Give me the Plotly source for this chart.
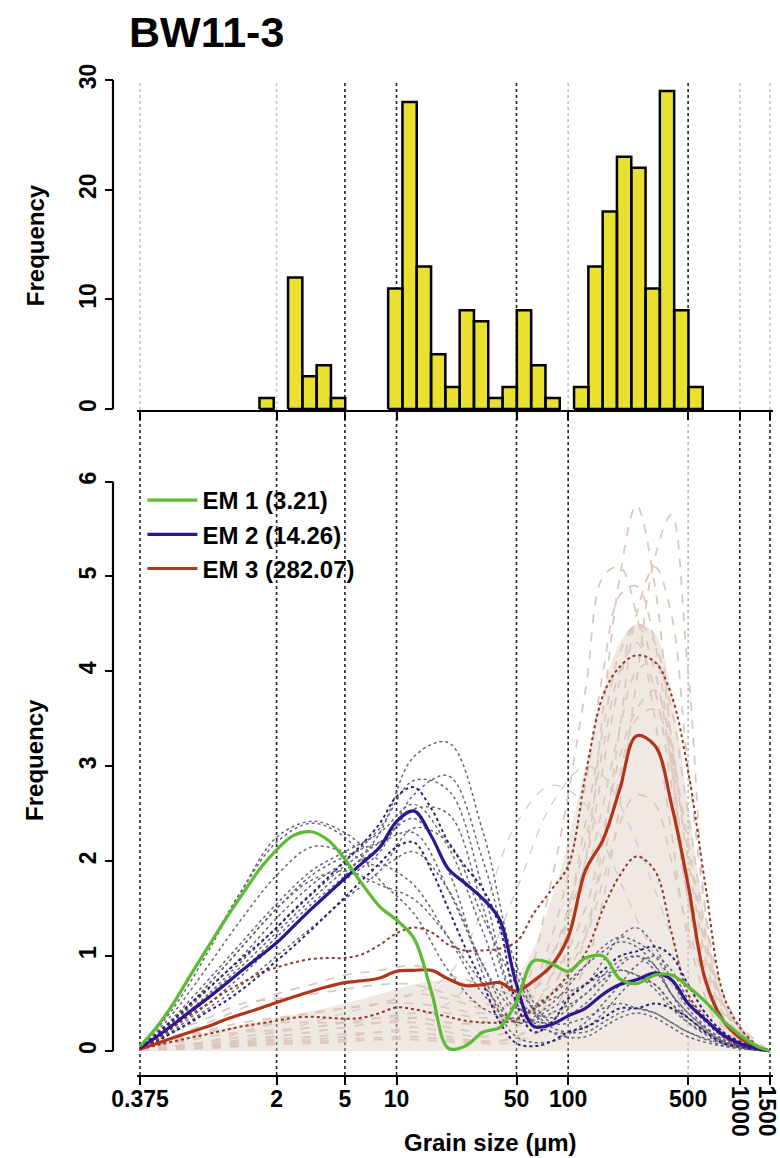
import numpy as np
import plotly.graph_objects as go

# ---- histogram of modes (upper panel) ----
bin_edges = [1.589, 1.924, 2.332, 2.825, 3.422, 4.147, 5.023, 6.085, 7.374, 8.933,
             10.82, 13.11, 15.89, 19.24, 23.32, 28.25, 34.22, 41.47, 50.23, 60.85,
             73.74, 89.33, 108.2, 131.1, 158.9, 192.4, 233.2, 282.5, 342.2, 414.7,
             502.3, 608.5]
counts = [1, 0, 12, 3, 4, 1, 0, 0, 0, 11, 28, 13, 5, 2, 9, 8, 1, 2, 9, 4, 1, 0,
          2, 13, 18, 23, 22, 11, 29, 9, 2]

# ---- end-member curves (lower panel) ----
grain_um = [0.32, 0.4, 0.5, 0.63, 0.8, 1, 1.26, 1.6, 2, 2.5, 3.2, 4, 5, 6.3, 8, 10,
            12.6, 16, 20, 25, 32, 40, 50, 63, 80, 100, 126, 160, 200, 250, 320, 400,
            500, 630, 800, 1000, 1260, 1500]
em1 = [0.05, 0.25, 0.50, 0.80, 1.10, 1.38, 1.65, 1.92, 2.12, 2.27, 2.31, 2.22, 2.02,
       1.76, 1.52, 1.38, 1.19, 0.62, 0.03, 0.05, 0.20, 0.25, 0.52, 0.95, 0.92, 0.84,
       0.98, 1.00, 0.76, 0.71, 0.80, 0.80, 0.68, 0.52, 0.32, 0.17, 0.05, 0.0]
em2 = [0.03, 0.15, 0.28, 0.42, 0.56, 0.70, 0.85, 1.00, 1.14, 1.31, 1.50, 1.66, 1.82,
       1.98, 2.15, 2.42, 2.53, 2.26, 1.92, 1.77, 1.60, 1.38, 0.70, 0.26, 0.28, 0.37,
       0.45, 0.60, 0.70, 0.75, 0.82, 0.75, 0.50, 0.33, 0.17, 0.08, 0.03, 0.0]
em3 = [0.02, 0.08, 0.14, 0.20, 0.26, 0.33, 0.39, 0.45, 0.51, 0.57, 0.63, 0.68, 0.72,
       0.74, 0.77, 0.84, 0.85, 0.85, 0.76, 0.69, 0.70, 0.72, 0.63, 0.74, 0.90, 1.20,
       1.90, 2.23, 2.76, 3.32, 3.22, 2.60, 1.75, 0.75, 0.32, 0.14, 0.04, 0.0]
em2_hi = [0.03, 0.18, 0.33, 0.50, 0.66, 0.82, 0.98, 1.14, 1.30, 1.48, 1.66, 1.83, 2.00,
          2.18, 2.40, 2.68, 2.78, 2.55, 2.20, 1.95, 1.70, 1.30, 0.50, 0.20, 0.30, 0.55,
          0.70, 0.85, 1.00, 1.05, 1.10, 1.00, 0.70, 0.40, 0.20, 0.10, 0.03, 0.0]
em2_lo = [0.02, 0.10, 0.20, 0.30, 0.42, 0.52, 0.65, 0.80, 0.95, 1.10, 1.28, 1.45, 1.62,
          1.80, 1.98, 2.15, 2.20, 1.90, 1.50, 1.10, 0.70, 0.30, 0.08, 0.05, 0.10, 0.20,
          0.25, 0.35, 0.45, 0.45, 0.50, 0.45, 0.35, 0.20, 0.08, 0.04, 0.01, 0.0]
em3_hi = [0.02, 0.12, 0.25, 0.38, 0.50, 0.62, 0.72, 0.82, 0.88, 0.93, 0.97, 0.98, 0.98,
          1.02, 1.12, 1.24, 1.30, 1.25, 1.12, 1.06, 1.06, 1.08, 1.15, 1.45, 1.70, 1.95,
          2.90, 3.75, 4.05, 4.17, 4.10, 3.75, 2.95, 1.75, 0.60, 0.25, 0.06, 0.0]
em3_lo = [0.02, 0.06, 0.10, 0.14, 0.18, 0.22, 0.26, 0.29, 0.32, 0.35, 0.36, 0.35, 0.34,
          0.35, 0.40, 0.46, 0.44, 0.40, 0.36, 0.32, 0.30, 0.30, 0.33, 0.45, 0.60, 0.80,
          1.03, 1.50, 1.85, 2.05, 1.90, 1.25, 0.60, 0.35, 0.15, 0.06, 0.02, 0.0]

# ---- measured sample curves (background), coarser grid ----
grain_bg = [0.32, 0.5, 0.8, 1.26, 2, 3.2, 5, 8, 12.6, 20, 32, 50, 80, 126, 160, 200,
            250, 320, 400, 500, 800, 1260, 1500]
gray_samples = [
    [0.02, 0.25, 0.55, 0.85, 1.2, 1.55, 1.85, 2.3, 3.1, 3.25, 2.3, 0.9, 0.3, 0.35, 0.45, 0.5, 0.45, 0.4, 0.3, 0.2, 0.08, 0.02, 0],
    [0.02, 0.3, 0.65, 1.0, 1.4, 1.75, 2.0, 2.35, 2.85, 2.75, 1.7, 0.55, 0.35, 0.6, 0.75, 0.85, 0.8, 0.65, 0.45, 0.3, 0.1, 0.02, 0],
    [0.02, 0.35, 0.75, 1.15, 1.55, 1.9, 2.1, 2.3, 2.6, 2.15, 1.25, 0.45, 0.6, 0.9, 1.05, 1.15, 1.1, 0.9, 0.6, 0.4, 0.12, 0.03, 0],
    [0.02, 0.4, 0.9, 1.4, 1.85, 2.15, 2.1, 1.95, 2.1, 1.7, 0.9, 0.3, 0.45, 0.7, 0.95, 1.2, 1.3, 1.1, 0.75, 0.45, 0.12, 0.03, 0],
    [0.03, 0.5, 1.1, 1.7, 2.2, 2.4, 2.25, 1.8, 1.45, 0.85, 0.45, 0.35, 0.55, 0.7, 0.8, 0.85, 0.8, 0.7, 0.5, 0.35, 0.1, 0.02, 0],
    [0.02, 0.2, 0.45, 0.7, 1.0, 1.3, 1.6, 1.9, 2.35, 2.2, 1.4, 0.7, 0.25, 0.2, 0.3, 0.4, 0.45, 0.4, 0.3, 0.2, 0.06, 0.01, 0],
    [0.02, 0.28, 0.6, 0.95, 1.3, 1.65, 1.95, 2.2, 2.45, 1.9, 0.8, 0.15, 0.1, 0.3, 0.5, 0.7, 0.9, 1.0, 0.85, 0.55, 0.15, 0.03, 0],
    [0.03, 0.45, 1.05, 1.7, 2.25, 2.42, 2.3, 2.0, 1.75, 1.2, 0.6, 0.3, 0.5, 0.9, 1.1, 1.2, 1.15, 1.0, 0.75, 0.5, 0.15, 0.03, 0],
    [0.02, 0.3, 0.7, 1.1, 1.5, 1.85, 2.05, 2.2, 2.3, 1.7, 0.9, 0.4, 0.3, 0.5, 0.7, 0.9, 1.0, 0.9, 0.6, 0.35, 0.1, 0.02, 0],
    [0.02, 0.22, 0.5, 0.8, 1.15, 1.5, 1.8, 2.1, 2.7, 2.9, 2.0, 0.8, 0.2, 0.15, 0.25, 0.35, 0.4, 0.35, 0.25, 0.15, 0.05, 0.01, 0],
    [0.02, 0.32, 0.7, 1.1, 1.5, 1.8, 1.9, 1.75, 1.6, 1.2, 0.7, 0.3, 0.4, 0.6, 0.8, 0.95, 1.0, 0.85, 0.6, 0.4, 0.1, 0.02, 0],
    [0.02, 0.26, 0.58, 0.9, 1.25, 1.6, 1.9, 2.15, 2.55, 2.5, 1.5, 0.5, 0.2, 0.25, 0.4, 0.6, 0.75, 0.7, 0.5, 0.3, 0.08, 0.02, 0],
]
tan_samples = [
    [0.01, 0.03, 0.05, 0.08, 0.1, 0.12, 0.15, 0.2, 0.2, 0.15, 0.1, 0.15, 0.6, 2.0, 3.6, 5.0, 5.75, 4.9, 3.2, 1.6, 0.25, 0.03, 0],
    [0.01, 0.02, 0.03, 0.05, 0.07, 0.08, 0.1, 0.12, 0.12, 0.1, 0.08, 0.1, 0.3, 0.9, 1.6, 2.6, 3.9, 5.2, 5.65, 4.0, 0.5, 0.1, 0],
    [0.01, 0.03, 0.06, 0.1, 0.15, 0.2, 0.25, 0.3, 0.35, 0.3, 0.3, 0.5, 1.8, 3.8, 5.0, 5.1, 4.6, 3.5, 2.3, 1.2, 0.2, 0.02, 0],
    [0.01, 0.05, 0.1, 0.2, 0.3, 0.4, 0.45, 0.5, 0.5, 0.45, 0.4, 0.5, 1.0, 2.0, 3.0, 3.9, 4.5, 4.3, 3.3, 2.0, 0.4, 0.05, 0],
    [0.02, 0.15, 0.3, 0.45, 0.6, 0.7, 0.8, 0.85, 0.9, 0.8, 0.7, 0.6, 0.8, 1.5, 2.3, 3.1, 3.6, 3.8, 3.2, 2.2, 0.5, 0.06, 0],
    [0.01, 0.1, 0.2, 0.25, 0.3, 0.3, 0.3, 0.3, 0.3, 0.25, 0.2, 0.3, 0.6, 1.2, 1.8, 2.4, 2.7, 2.6, 2.0, 1.3, 0.3, 0.03, 0],
    [0.01, 0.08, 0.15, 0.2, 0.22, 0.25, 0.3, 0.35, 0.4, 0.4, 0.35, 0.4, 1.0, 2.2, 3.2, 4.0, 4.3, 3.8, 2.8, 1.6, 0.3, 0.03, 0],
    [0.01, 0.02, 0.04, 0.06, 0.08, 0.1, 0.12, 0.14, 0.15, 0.12, 0.1, 0.15, 0.4, 1.2, 2.2, 3.4, 4.6, 5.1, 4.6, 3.0, 0.6, 0.05, 0],
    [0.01, 0.05, 0.1, 0.15, 0.2, 0.25, 0.3, 0.35, 0.35, 0.3, 0.3, 0.4, 1.2, 2.8, 4.0, 4.8, 4.9, 4.3, 3.0, 1.6, 0.3, 0.03, 0],
    [0.02, 0.2, 0.35, 0.5, 0.55, 0.6, 0.65, 0.7, 0.7, 0.6, 0.5, 0.5, 0.9, 1.8, 2.6, 3.4, 4.0, 4.1, 3.6, 2.5, 0.5, 0.05, 0],
    [0.01, 0.03, 0.06, 0.1, 0.12, 0.15, 0.18, 0.2, 0.25, 0.2, 0.15, 0.25, 0.8, 2.4, 3.4, 4.2, 4.5, 4.0, 3.0, 1.8, 0.35, 0.04, 0],
    [0.01, 0.12, 0.22, 0.3, 0.35, 0.4, 0.45, 0.5, 0.6, 0.55, 0.45, 0.5, 0.7, 1.3, 2.0, 2.9, 3.5, 3.6, 3.1, 2.1, 0.45, 0.05, 0],
]
light_samples = [
    [0.01, 0.05, 0.1, 0.15, 0.2, 0.3, 0.4, 0.5, 0.6, 0.8, 1.5, 2.4, 2.8, 2.6, 2.2, 1.8, 1.4, 1.0, 0.7, 0.4, 0.1, 0.01, 0],
    [0.01, 0.04, 0.08, 0.12, 0.16, 0.2, 0.25, 0.3, 0.35, 0.5, 0.9, 1.7, 2.6, 3.0, 2.9, 2.6, 2.2, 1.7, 1.2, 0.7, 0.15, 0.02, 0],
]
tan_band = [0, 0.12, 0.2, 0.28, 0.35, 0.42, 0.5, 0.6, 0.7, 0.75, 0.7, 0.8, 1.6, 3.0,
            3.8, 4.3, 4.5, 4.4, 3.8, 2.6, 0.6, 0.08, 0]

tick_vals = [0.32, 2, 5, 10, 50, 100, 500, 1000, 1500]
tick_text = ["0.375", "2", "5", "10", "50", "100", "500", "", ""]
rotated_ticks = [1000, 1500]
grid_dark_low = [0.32, 2, 5, 10, 50, 100, 1000, 1500]
grid_light_low = [500]
grid_dark_top = [5, 10, 50, 500]
grid_light_top = [0.32, 2, 100, 1000, 1500]

FONT = "Liberation Sans"
bold = dict(family=FONT, weight="bold", color="black")

fig = go.Figure()

# histogram bars as closed polygons on the log axis
hx, hy = [], []
for lo, hi, c in zip(bin_edges[:-1], bin_edges[1:], counts):
    if c == 0:
        continue
    hx += [lo, lo, hi, hi, lo, None]
    hy += [0, c, c, 0, 0, None]
fig.add_trace(go.Scatter(x=hx, y=hy, xaxis="x2", yaxis="y2", mode="lines",
                         fill="toself", fillcolor="#e9e02f",
                         line=dict(color="black", width=2.5), showlegend=False,
                         hoverinfo="skip"))

# background cloud
fig.add_trace(go.Scatter(x=grain_bg, y=tan_band, mode="lines", fill="tozeroy",
                         fillcolor="rgba(222,204,194,0.45)", line=dict(width=0),
                         line_shape="spline", showlegend=False, hoverinfo="skip"))
for s in light_samples:
    fig.add_trace(go.Scatter(x=grain_bg, y=s, mode="lines", line_shape="spline",
                             line=dict(color="#c9c9cf", width=1.2, dash="dash"),
                             showlegend=False, hoverinfo="skip"))
for s in tan_samples:
    fig.add_trace(go.Scatter(x=grain_bg, y=s, mode="lines", line_shape="spline",
                             line=dict(color="#dcc8be", width=1.8, dash="dash"),
                             showlegend=False, hoverinfo="skip"))
for s in gray_samples:
    fig.add_trace(go.Scatter(x=grain_bg, y=s, mode="lines", line_shape="spline",
                             line=dict(color="#66667a", width=1.5, dash="dot"),
                             showlegend=False, hoverinfo="skip"))

# end-member spread
for s, col in [(em3_hi, "#8c3b28"), (em3_lo, "#8c3b28"),
               (em2_hi, "#2b2272"), (em2_lo, "#2b2272")]:
    fig.add_trace(go.Scatter(x=grain_um, y=s, mode="lines", line_shape="spline",
                             line=dict(color=col, width=2, dash="dot"),
                             showlegend=False, hoverinfo="skip"))

# end-members
for name, s, col, rank in [("EM 3 (282.07)", em3, "#b1351b", 3),
                           ("EM 2 (14.26)", em2, "#2f168f", 2),
                           ("EM 1 (3.21)", em1, "#5cba34", 1)]:
    fig.add_trace(go.Scatter(x=grain_um, y=s, mode="lines", name=name,
                             line_shape="spline", legendrank=rank,
                             line=dict(color=col, width=3.2)))

# dotted vertical guides
shapes = []
for v in grid_dark_low + grid_light_low:
    shapes.append(dict(type="line", xref="x", yref="y domain", x0=v, x1=v, y0=0, y1=1,
                       layer="below",
                       line=dict(color="#222" if v in grid_dark_low else "#bbb",
                                 width=1.6, dash="dot")))
for v in grid_dark_top + grid_light_top:
    shapes.append(dict(type="line", xref="x2", yref="y2 domain", x0=v, x1=v, y0=0, y1=1,
                       layer="below",
                       line=dict(color="#222" if v in grid_dark_top else "#c4c4c4",
                                 width=1.6, dash="dot")))
# R-style y axis lines spanning first to last tick
YPOS = 0.0193
shapes.append(dict(type="line", xref="paper", yref="y2", x0=YPOS, x1=YPOS, y0=0, y1=30,
                   line=dict(color="black", width=2.2)))
shapes.append(dict(type="line", xref="paper", yref="y", x0=YPOS, x1=YPOS, y0=0, y1=6,
                   line=dict(color="black", width=2.2)))

xr = [-0.5124, 3.1936]
xdom = [0.055, 1]
axis_common = dict(type="log", range=xr, domain=xdom, tickvals=tick_vals,
                   showgrid=False, zeroline=False, showline=True, linecolor="black",
                   linewidth=2.2, ticks="outside", ticklen=8, tickwidth=2,
                   tickcolor="black")

annotations = [
    dict(text="BW11-3", xref="paper", yref="paper", x=0.0401, y=1.048, xanchor="left",
         yanchor="middle", showarrow=False, font=dict(size=43, **bold)),
    dict(text="Frequency", xref="paper", yref="paper", x=-0.0966, y=0.834,
         xanchor="center", yanchor="middle",
         textangle=-90, showarrow=False, font=dict(size=24, **bold)),
    dict(text="Frequency", xref="paper", yref="paper", x=-0.0966, y=0.3166,
         xanchor="center", yanchor="middle",
         textangle=-90, showarrow=False, font=dict(size=24, **bold)),
    dict(text="Grain size (µm)", xref="paper", yref="paper", x=0.5795, y=-0.0683,
         xanchor="center", yanchor="middle",
         showarrow=False, font=dict(size=24, **bold)),
]
for v in rotated_ticks:
    annotations.append(dict(text=str(v), xref="x", yref="paper", x=float(np.log10(v)),
                            y=-0.009, xanchor="center", yanchor="top", textangle=90,
                            xshift=-3 if v == 1500 else 0,
                            showarrow=False, font=dict(size=23, **bold)))

fig.update_layout(
    width=780, height=1158,
    margin=dict(l=100, r=7, t=80, b=83),
    paper_bgcolor="white", plot_bgcolor="white",
    font=dict(family=FONT, size=23, color="black"),
    xaxis=dict(**axis_common, anchor="y", ticktext=tick_text, ticklabelstandoff=-6,
               tickfont=dict(size=23, **bold)),
    xaxis2=dict(**axis_common, anchor="y2", showticklabels=False),
    yaxis=dict(domain=[0, 0.6663], range=[-0.2529, 6.733], anchor="free",
               position=YPOS, tickvals=[0, 1, 2, 3, 4, 5, 6], tickangle=-90,
               ticks="outside", ticklen=8, tickwidth=2, tickcolor="black",
               showgrid=False, zeroline=False, showline=False,
               tickfont=dict(size=23, **bold)),
    yaxis2=dict(domain=[0.6683, 1], range=[-0.09, 30], anchor="free",
                position=YPOS, tickvals=[0, 10, 20, 30], tickangle=-90,
                ticks="outside", ticklen=8, tickwidth=2, tickcolor="black",
                showgrid=False, zeroline=False, showline=False,
                tickfont=dict(size=23, **bold)),
    legend=dict(x=0.063, y=0.6, xanchor="left", yanchor="top", bgcolor="rgba(0,0,0,0)",
                font=dict(size=24, **bold), tracegroupgap=0, itemwidth=50),
    shapes=shapes,
    annotations=annotations,
)

fig.write_html("out.html", config={"displayModeBar": False},
               post_script="document.body.style.margin='0';")
